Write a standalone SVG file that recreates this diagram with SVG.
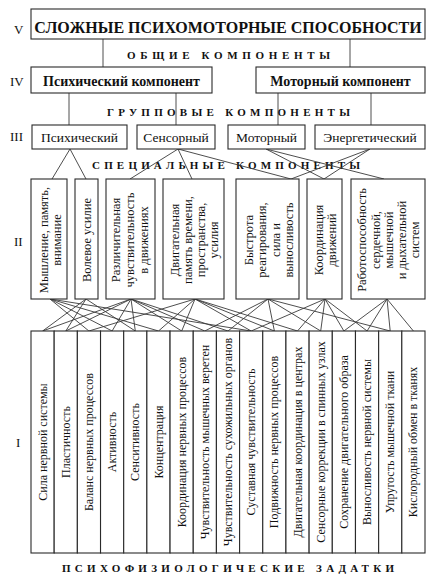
<svg xmlns="http://www.w3.org/2000/svg" width="439" height="576" viewBox="0 0 439 576">
<style>
.box{fill:#fff;stroke:#2a2a2a;stroke-width:1.1}
.ln{stroke:#3a3a3a;stroke-width:0.9;fill:none}
.t{font-family:"Liberation Serif","Times New Roman",serif;fill:#111}
.h{font-size:16px;font-weight:bold}
.h4{font-size:14px;font-weight:bold}
.h3{font-size:13.5px}
.sp{font-size:11px;font-weight:bold}
.rn{font-size:13px}
.v2{font-size:12.5px;text-anchor:middle}
.v1{font-size:12px;text-anchor:middle}
</style>
<rect width="439" height="576" fill="#fff"/>
<g id="roman" class="t rn">
<text x="14" y="34">V</text>
<text x="10" y="86">IV</text>
<text x="10" y="141">III</text>
<text x="14" y="246">II</text>
<text x="16" y="447">I</text>
</g>
<g id="captions" class="t sp">
<text x="127" y="59" textLength="203" lengthAdjust="spacing">ОБЩИЕ  КОМПОНЕНТЫ</text>
<text x="107" y="116" textLength="243" lengthAdjust="spacing">ГРУППОВЫЕ  КОМПОНЕНТЫ</text>
<text x="92" y="169" textLength="268" lengthAdjust="spacing">СПЕЦИАЛЬНЫЕ  КОМПОНЕНТЫ</text>
<text x="62" y="572" textLength="332" lengthAdjust="spacing">ПСИХОФИЗИОЛОГИЧЕСКИЕ  ЗАДАТКИ</text>
</g>
<g id="connectors" class="ln">
<line x1="103" y1="39" x2="103" y2="67"/>
<line x1="350" y1="39" x2="350" y2="67"/>
<line x1="69" y1="93" x2="69" y2="125"/>
<line x1="176" y1="93" x2="176" y2="125"/>
<line x1="278" y1="93" x2="278" y2="125"/>
<line x1="371" y1="93" x2="371" y2="125"/>
<path d="M70 149L52 179M70 149L86 179"/>
<path d="M178 149L130 179M178 149L192 179M178 149L291 179"/>
<path d="M266 149L324 179M266 149L384 179"/>
<path d="M370 149L291 179M370 149L324 179"/>
<path d="M50 299L88.9 331M50 299L112.1 331M50 299L158.5 331M50 299L251.2 331"/>
<path d="M86 299L42.6 331M86 299L65.8 331M86 299L135.3 331"/>
<path d="M131 299L42.6 331M131 299L65.8 331M131 299L112.1 331M131 299L135.3 331M131 299L181.7 331M131 299L204.8 331M131 299L228 331"/>
<path d="M195 299L88.9 331M195 299L158.5 331M195 299L181.7 331M195 299L251.2 331M195 299L274.4 331M195 299L297.5 331"/>
<path d="M268 299L204.8 331M268 299L228 331M268 299L274.4 331M268 299L320.7 331M268 299L390.2 331"/>
<path d="M325 299L251.2 331M325 299L297.5 331M325 299L320.7 331M325 299L343.9 331M325 299L367.1 331"/>
<path d="M387 299L343.9 331M387 299L367.1 331M387 299L390.2 331M387 299L413.4 331"/>
</g>
<g id="n-v">
<rect class="box" x="31" y="9" width="394" height="30"/>
<text class="t h" x="228" y="33" text-anchor="middle">СЛОЖНЫЕ ПСИХОМОТОРНЫЕ СПОСОБНОСТИ</text>
</g>
<g id="n-iv-psy">
<rect class="box" x="31" y="67" width="181" height="26"/>
<text class="t h4" x="121.5" y="86" text-anchor="middle">Психический компонент</text>
</g>
<g id="n-iv-mot">
<rect class="box" x="256" y="67" width="169" height="26"/>
<text class="t h4" x="340.5" y="86" text-anchor="middle">Моторный компонент</text>
</g>
<g id="n-iii-psy">
<rect class="box" x="32" y="125" width="95" height="24"/>
<text class="t h3" x="79.5" y="141.5" text-anchor="middle">Психический</text>
</g>
<g id="n-iii-sen">
<rect class="box" x="137" y="125" width="78" height="24"/>
<text class="t h3" x="176" y="141.5" text-anchor="middle">Сенсорный</text>
</g>
<g id="n-iii-mot">
<rect class="box" x="228" y="125" width="77" height="24"/>
<text class="t h3" x="266.5" y="141.5" text-anchor="middle">Моторный</text>
</g>
<g id="n-iii-en">
<rect class="box" x="315" y="125" width="110" height="24"/>
<text class="t h3" x="370" y="141.5" text-anchor="middle">Энергетический</text>
</g>
<g id="n-ii-1">
<rect class="box" x="31" y="179" width="36" height="120"/>
<text class="t v2" transform="translate(47.5,240) rotate(-90)">Мышление, память,</text>
<text class="t v2" transform="translate(61,240) rotate(-90)">внимание</text>
</g>
<g id="n-ii-2">
<rect class="box" x="75" y="179" width="23" height="120"/>
<text class="t v2" transform="translate(90.5,240) rotate(-90)">Волевое усилие</text>
</g>
<g id="n-ii-3">
<rect class="box" x="106" y="179" width="49" height="120"/>
<text class="t v2" transform="translate(119.5,240) rotate(-90)">Различительная</text>
<text class="t v2" transform="translate(134,240) rotate(-90)">чувствительность</text>
<text class="t v2" transform="translate(147.5,240) rotate(-90)">в движениях</text>
</g>
<g id="n-ii-4">
<rect class="box" x="163" y="179" width="61" height="120"/>
<text class="t v2" transform="translate(179,240) rotate(-90)">Двигательная</text>
<text class="t v2" transform="translate(192,240) rotate(-90)">память времени,</text>
<text class="t v2" transform="translate(205,240) rotate(-90)">пространства,</text>
<text class="t v2" transform="translate(218,240) rotate(-90)">усилия</text>
</g>
<g id="n-ii-5">
<rect class="box" x="236" y="179" width="63" height="120"/>
<text class="t v2" transform="translate(253,240) rotate(-90)">Быстрота</text>
<text class="t v2" transform="translate(266,240) rotate(-90)">реагирования,</text>
<text class="t v2" transform="translate(280,240) rotate(-90)">сила и</text>
<text class="t v2" transform="translate(293,240) rotate(-90)">выносливость</text>
</g>
<g id="n-ii-6">
<rect class="box" x="307" y="179" width="35" height="120"/>
<text class="t v2" transform="translate(323,240) rotate(-90)">Координация</text>
<text class="t v2" transform="translate(336,240) rotate(-90)">движений</text>
</g>
<g id="n-ii-7">
<rect class="box" x="351" y="179" width="74" height="120"/>
<text class="t v2" transform="translate(366,240) rotate(-90)">Работоспособность</text>
<text class="t v2" transform="translate(380,240) rotate(-90)">сердечной,</text>
<text class="t v2" transform="translate(393,240) rotate(-90)">мышечной</text>
<text class="t v2" transform="translate(406,240) rotate(-90)">и дыхательной</text>
<text class="t v2" transform="translate(419,240) rotate(-90)">систем</text>
</g>
<g id="n-i-0"><rect class="box" x="31" y="331" width="23.18" height="222"/><text class="t v1" transform="translate(46.6,442) rotate(-90)">Сила нервной системы</text></g>
<g id="n-i-1"><rect class="box" x="54.18" y="331" width="23.18" height="222"/><text class="t v1" transform="translate(69.8,442) rotate(-90)">Пластичность</text></g>
<g id="n-i-2"><rect class="box" x="77.35" y="331" width="23.18" height="222"/><text class="t v1" transform="translate(92.9,442) rotate(-90)">Баланс нервных процессов</text></g>
<g id="n-i-3"><rect class="box" x="100.53" y="331" width="23.18" height="222"/><text class="t v1" transform="translate(116.1,442) rotate(-90)">Активность</text></g>
<g id="n-i-4"><rect class="box" x="123.7" y="331" width="23.18" height="222"/><text class="t v1" transform="translate(139.3,442) rotate(-90)">Сенситивность</text></g>
<g id="n-i-5"><rect class="box" x="146.88" y="331" width="23.18" height="222"/><text class="t v1" transform="translate(162.5,442) rotate(-90)">Концентрация</text></g>
<g id="n-i-6"><rect class="box" x="170.06" y="331" width="23.18" height="222"/><text class="t v1" transform="translate(185.7,442) rotate(-90)">Координация нервных процессов</text></g>
<g id="n-i-7"><rect class="box" x="193.24" y="331" width="23.18" height="222"/><text class="t v1" transform="translate(208.8,442) rotate(-90)">Чувствительность мышечных веретен</text></g>
<g id="n-i-8"><rect class="box" x="216.41" y="331" width="23.18" height="222"/><text class="t v1" transform="translate(232,442) rotate(-90)">Чувствительность сухожильных органов</text></g>
<g id="n-i-9"><rect class="box" x="239.59" y="331" width="23.18" height="222"/><text class="t v1" transform="translate(255.2,442) rotate(-90)">Суставная чувствительность</text></g>
<g id="n-i-10"><rect class="box" x="262.76" y="331" width="23.18" height="222"/><text class="t v1" transform="translate(278.4,442) rotate(-90)">Подвижность нервных процессов</text></g>
<g id="n-i-11"><rect class="box" x="285.94" y="331" width="23.18" height="222"/><text class="t v1" transform="translate(301.5,442) rotate(-90)">Двигательная координация в центрах</text></g>
<g id="n-i-12"><rect class="box" x="309.12" y="331" width="23.18" height="222"/><text class="t v1" transform="translate(324.7,442) rotate(-90)">Сенсорные коррекции в спинных узлах</text></g>
<g id="n-i-13"><rect class="box" x="332.29" y="331" width="23.18" height="222"/><text class="t v1" transform="translate(347.9,442) rotate(-90)">Сохранение двигательного образа</text></g>
<g id="n-i-14"><rect class="box" x="355.47" y="331" width="23.18" height="222"/><text class="t v1" transform="translate(371.1,442) rotate(-90)">Выносливость нервной системы</text></g>
<g id="n-i-15"><rect class="box" x="378.65" y="331" width="23.18" height="222"/><text class="t v1" transform="translate(394.2,442) rotate(-90)">Упругость мышечной ткани</text></g>
<g id="n-i-16"><rect class="box" x="401.82" y="331" width="23.18" height="222"/><text class="t v1" transform="translate(417.4,442) rotate(-90)">Кислородный обмен в тканях</text></g>
</svg>
